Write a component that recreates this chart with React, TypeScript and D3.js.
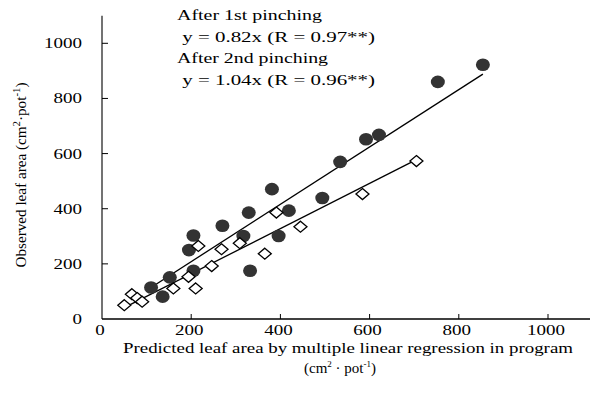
import React from "react";
import * as d3 from "d3";

const firstX = [50, 67, 79, 90, 160, 194, 210, 216, 246, 268, 309, 365, 391, 445, 584, 705];
const firstY = [50, 90, 76, 63, 111, 153, 111, 265, 192, 253, 275, 237, 386, 335, 453, 573];
const secondX = [110, 136, 152, 195, 205, 205, 270, 317, 329, 332, 381, 396, 419, 494, 534, 592, 621, 753, 854];
const secondY = [114, 81, 151, 250, 303, 175, 338, 301, 386, 175, 471, 301, 393, 439, 570, 652, 668, 860, 922];
const slopeFirst = 0.82;
const slopeSecond = 1.04;
const xTicks = [0, 200, 400, 600, 800, 1000];
const yTicks = [0, 200, 400, 600, 800, 1000];
const legendLines = ["After 1st pinching", " y = 0.82x (R = 0.97**)", "After 2nd pinching", " y = 1.04x (R = 0.96**)"];

const W = 590;
const H = 398;
const FONT = "'Liberation Serif', 'Times New Roman', serif";

export default function App() {
  const x = d3.scaleLinear().domain([0, 1000]).range([102, 548]);
  const y = d3.scaleLinear().domain([0, 1000]).range([319, 43.3]);
  const x0 = x(0);
  const y0 = y(0);
  const line = d3.line<[number, number]>().x((d) => x(d[0])).y((d) => y(d[1]));
  const fitFirst: [number, number][] = [
    [d3.min(firstX)!, slopeFirst * d3.min(firstX)!],
    [d3.max(firstX)!, slopeFirst * d3.max(firstX)!],
  ];
  const fitSecond: [number, number][] = [
    [d3.min(secondX)!, slopeSecond * d3.min(secondX)!],
    [d3.max(secondX)!, slopeSecond * d3.max(secondX)!],
  ];
  const legendY = [20, 42, 63, 85];
  const legendW = [145, 198, 151, 198];
  const legendX = [177, 177, 177, 177];

  return (
    <svg width={W} height={H} style={{ position: "absolute", left: 0, top: 0, background: "#fff" }} fontFamily={FONT}>
      <rect x={0} y={0} width={W} height={H} fill="#fff" />
      {/* axes */}
      <line x1={x0} x2={x0} y1={y(1100)} y2={y0} stroke="#444" strokeWidth={1.5} />
      <line x1={x0} x2={x(1100)} y1={y0} y2={y0} stroke="#000" strokeWidth={1.6} />
      {yTicks.filter((t) => t > 0).map((t) => (
        <line key={"yt" + t} x1={x0} x2={x0 + 6} y1={y(t)} y2={y(t)} stroke="#000" strokeWidth={1} />
      ))}
      {xTicks.filter((t) => t > 0).map((t) => (
        <line key={"xt" + t} x1={x(t)} x2={x(t)} y1={y0} y2={y0 - 5} stroke="#000" strokeWidth={1} />
      ))}
      {yTicks.map((t) => (
        <text key={"yl" + t} x={82} y={y(t) + 5} textAnchor="end" fontSize={15}
          textLength={String(t).length * 9.5} lengthAdjust="spacingAndGlyphs">{t}</text>
      ))}
      {xTicks.map((t) => (
        <text key={"xl" + t} x={x(t) - 2} y={335} textAnchor="middle" fontSize={15}
          textLength={String(t).length * 9.5} lengthAdjust="spacingAndGlyphs">{t}</text>
      ))}
      {/* axis titles */}
      <text x={348} y={353} textAnchor="middle" fontSize={14} textLength={450} lengthAdjust="spacingAndGlyphs">
        Predicted leaf area by multiple linear regression in program
      </text>
      <text x={340} y={373} textAnchor="middle" fontSize={15} textLength={72} lengthAdjust="spacingAndGlyphs">
        (cm<tspan dy={-6} fontSize={9}>2</tspan><tspan dy={6}> · pot</tspan><tspan dy={-6} fontSize={9}>-1</tspan><tspan dy={6}>)</tspan>
      </text>
      <text transform={`translate(26, 175) rotate(-90)`} textAnchor="middle" fontSize={14}
        textLength={185} lengthAdjust="spacingAndGlyphs">
        Observed leaf area (cm<tspan dy={-6} fontSize={10}>2</tspan><tspan dy={6}>·pot</tspan><tspan dy={-6} fontSize={10}>-1</tspan><tspan dy={6}>)</tspan>
      </text>
      {/* legend text */}
      {legendLines.map((s, i) => (
        <text key={"lg" + i} x={legendX[i]} y={legendY[i]} fontSize={15} textLength={legendW[i]}
          lengthAdjust="spacingAndGlyphs" xmlSpace="preserve" style={{ whiteSpace: "pre" }}>{s}</text>
      ))}
      {/* fit lines */}
      <path d={line(fitSecond)!} stroke="#000" strokeWidth={1.3} fill="none" />
      <path d={line(fitFirst)!} stroke="#000" strokeWidth={1.3} fill="none" />
      {/* second pinching: filled circles */}
      {secondX.map((v, i) => (
        <ellipse key={"c" + i} cx={x(v)} cy={y(secondY[i])} rx={7} ry={6.3} fill="#333" />
      ))}
      {/* first pinching: open diamonds */}
      {firstX.map((v, i) => {
        const cx = x(v);
        const cy = y(firstY[i]);
        return (
          <path key={"d" + i} d={`M${cx},${cy - 5.5}L${cx + 6.5},${cy}L${cx},${cy + 5.5}L${cx - 6.5},${cy}Z`}
            fill="#fff" stroke="#000" strokeWidth={1.3} />
        );
      })}
    </svg>
  );
}
